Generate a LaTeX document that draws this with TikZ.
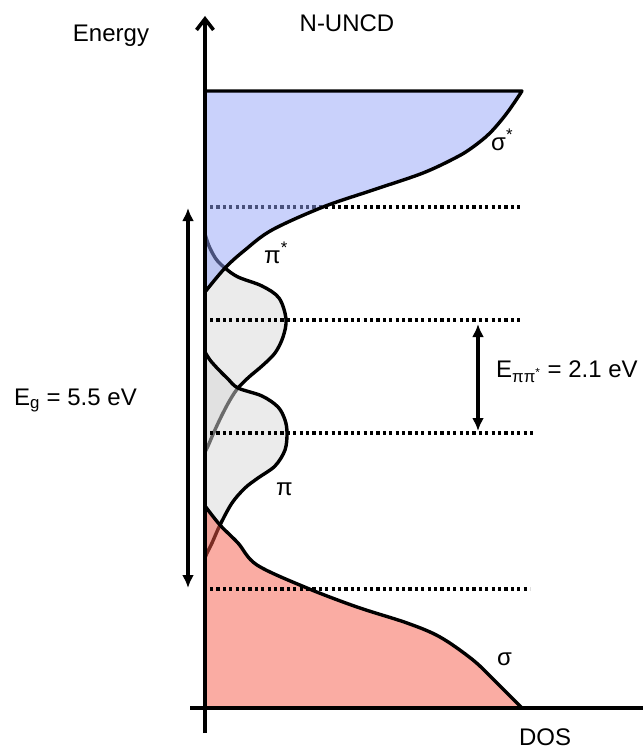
\documentclass[tikz,border=0pt]{standalone}
\usepackage{fontspec}
\setmainfont{Liberation Sans}
\usetikzlibrary{arrows.meta}
\definecolor{bluefill}{RGB}{147,163,247}
\definecolor{redfill}{RGB}{245,89,71}
\definecolor{greyfill}{RGB}{215,215,215}
\begin{document}
\begin{tikzpicture}[x=1pt,y=-1pt,
  curve/.style={line width=3.4pt, line join=round, line cap=round},
  axisline/.style={line width=3.6pt},
  levelline/.style={line width=3.3pt, dash pattern=on 3.2pt off 3.2pt},
  gaparrow/.style={line width=3.3pt, {Latex[length=13pt,width=12pt]}-{Latex[length=13pt,width=12pt]}},
  lbl/.style={font=\fontsize{24}{28}\selectfont, inner sep=0pt}]
\useasboundingbox (0,0) rectangle (643,749);

% pi* band
\fill[greyfill, fill opacity=0.5] plot[smooth, tension=0.55] coordinates {(205,234) (209,246) (216,259) (225,268) (238,277) (262,286) (279,298) (286,319) (283,337) (275,353) (262,366) (249,377) (238,388) (230,400) (222,415) (214,432) (208,446) (205,452)} -- cycle;
\draw[curve] plot[smooth, tension=0.55] coordinates {(205,234) (209,246) (216,259) (225,268) (238,277) (262,286) (279,298) (286,319) (283,337) (275,353) (262,366) (249,377) (238,388) (230,400) (222,415) (214,432) (208,446) (205,452)};

% pi band
\fill[greyfill, fill opacity=0.5] plot[smooth, tension=0.55] coordinates {(205,352) (210,360) (218,369) (228,379) (238,388) (262,396) (278,407) (285,420) (287,433) (285,450) (275,466) (258,478) (245,488) (232,503) (220,525) (212,543) (207,553) (205,558)} -- cycle;
\draw[curve] plot[smooth, tension=0.55] coordinates {(205,352) (210,360) (218,369) (228,379) (238,388) (262,396) (278,407) (285,420) (287,433) (285,450) (275,466) (258,478) (245,488) (232,503) (220,525) (212,543) (207,553) (205,558)};

% dotted levels (upper three, under the sigma* fill)
\coordinate (l1a) at (210,207); \coordinate (l1b) at (523,207);
\coordinate (l2a) at (210,320); \coordinate (l2b) at (523,320);
\coordinate (l3a) at (210,433); \coordinate (l3b) at (533,433);
\coordinate (l4a) at (210,589); \coordinate (l4b) at (530,589);
\draw[levelline] (l1a) -- (l1b);
\draw[levelline] (l2a) -- (l2b);
\draw[levelline] (l3a) -- (l3b);

% sigma band
\fill[redfill, fill opacity=0.5] (205,708) -- plot[smooth, tension=0.55] coordinates {(205,506) (220,525) (238,543) (257,565) (307,588) (357,607) (407,623) (440,637) (473,660) (497,683) (522,708)} -- cycle;
\draw[levelline] (l4a) -- (l4b);
\draw[curve] plot[smooth, tension=0.55] coordinates {(205,506) (220,525) (238,543) (257,565) (307,588) (357,607) (407,623) (440,637) (473,660) (497,683) (522,708)};

% sigma* band
\fill[bluefill, fill opacity=0.5] (205,91) -- plot[smooth, tension=0.55] coordinates {(522,91) (507,113) (490,133) (473,147) (457,157) (423,173) (373,190) (323,207) (272,230) (245,250) (225,268) (205,292)} -- cycle;
\draw[curve] (205,91) -- plot[smooth, tension=0.55] coordinates {(522,91) (507,113) (490,133) (473,147) (457,157) (423,173) (373,190) (323,207) (272,230) (245,250) (225,268) (205,292)};

% axes
\coordinate (ybot) at (205,733);
\coordinate (ytop) at (205,16);
\coordinate (xleft) at (190,708);
\coordinate (xright) at (643,708);
\draw[axisline, -{Straight Barb[length=11pt,width=17pt]}] (ybot) -- (ytop);
\draw[axisline] (xleft) -- (xright);

% gap arrows
\coordinate (ega) at (188,208); \coordinate (egb) at (188,588);
\coordinate (epa) at (478,324); \coordinate (epb) at (478,431);
\draw[gaparrow] (ega) -- (egb);
\draw[gaparrow] (epa) -- (epb);

% labels
\node[lbl, anchor=base] (energy) at (111,42) {Energy};
\node[lbl, anchor=base] (title) at (347,32) {N-UNCD};
\node[lbl, anchor=base] (dos) at (545,745) {DOS};
\node[lbl, anchor=base west] (sigstar) at (491,150) {σ\textsuperscript{*}};
\node[lbl, anchor=base west] (pistar) at (264,263) {π\textsuperscript{*}};
\node[lbl, anchor=base west] (pi) at (276,495) {π};
\node[lbl, anchor=base west] (sig) at (497,665) {σ};
\node[lbl, anchor=base west] (eg) at (14,405) {E\textsubscript{g} = 5.5 eV};
\node[lbl, anchor=base west] (epp) at (496,377) {E\textsubscript{ππ\textsuperscript{*}} = 2.1 eV};
\end{tikzpicture}
\end{document}
